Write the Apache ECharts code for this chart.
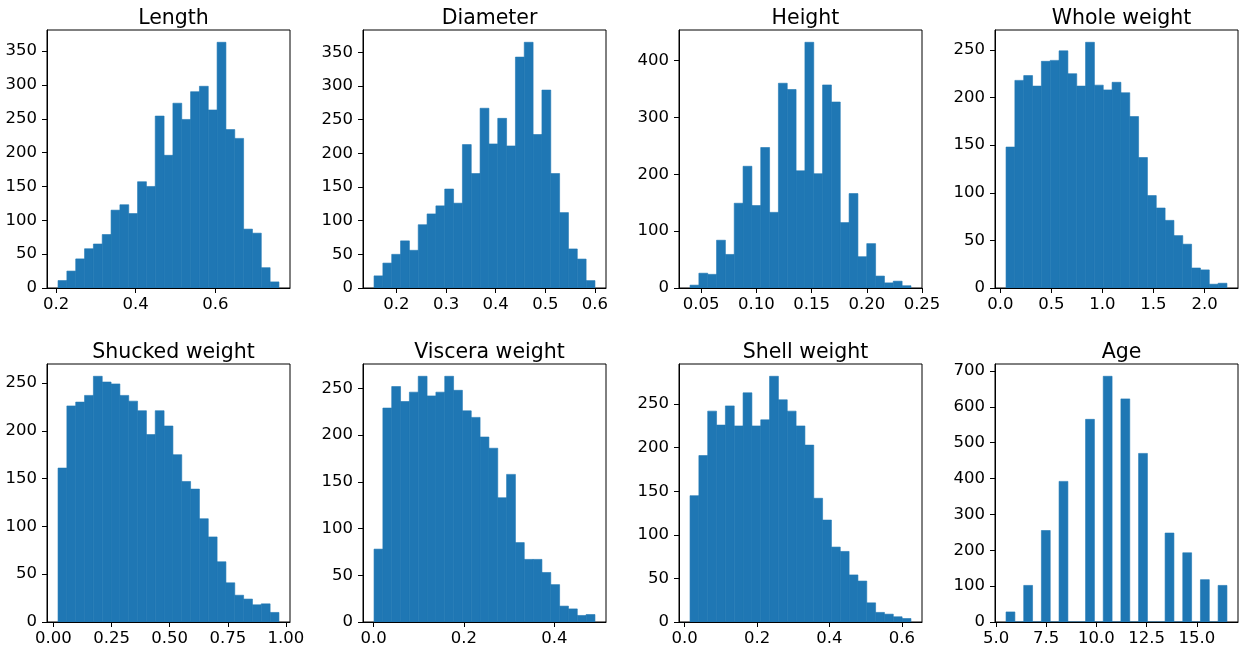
<!DOCTYPE html>
<html>
<head>
<meta charset="utf-8">
<script src="https://cdn.jsdelivr.net/npm/echarts@6/dist/echarts.min.js"></script>
<style>
html,body{margin:0;padding:0;background:#fff;}
#chart{width:1246px;height:648px;}
</style>
</head>
<body>
<div id="chart"></div>
<script>
// ---------- DATA ----------
const titles = ['Length', 'Diameter', 'Height', 'Whole weight', 'Shucked weight', 'Viscera weight', 'Shell weight', 'Age'];

// histogram counts (25 bins each)
const lengthCounts   = [11, 25, 43, 58, 65, 79, 115, 123, 110, 157, 150, 254, 196, 273, 249, 290, 298, 263, 363, 234, 221, 87, 81, 30, 9];
const diameterCounts = [18, 37, 50, 70, 56, 94, 110, 122, 147, 126, 213, 170, 267, 214, 252, 211, 343, 365, 228, 294, 170, 112, 58, 43, 11];
const heightCounts   = [5, 26, 24, 84, 59, 149, 214, 145, 247, 133, 360, 349, 206, 432, 201, 357, 327, 115, 166, 55, 78, 21, 9, 12, 4];
const wholeCounts    = [148, 218, 223, 212, 238, 239, 249, 225, 212, 258, 213, 208, 216, 205, 180, 137, 97, 84, 71, 55, 46, 21, 19, 4, 5];
const shuckedCounts  = [161, 226, 230, 237, 257, 251, 249, 237, 231, 221, 196, 221, 205, 175, 147, 139, 108, 89, 63, 41, 28, 24, 18, 19, 10];
const visceraCounts  = [78, 229, 252, 236, 246, 263, 242, 246, 263, 248, 226, 219, 198, 186, 133, 158, 85, 67, 67, 53, 40, 17, 14, 7, 8];
const shellCounts    = [145, 191, 242, 226, 248, 225, 263, 225, 232, 282, 255, 242, 225, 203, 142, 117, 86, 81, 54, 47, 22, 11, 9, 6, 4];
const ageCounts      = [28, 0, 102, 0, 255, 0, 392, 0, 0, 565, 0, 685, 0, 622, 0, 470, 0, 0, 248, 0, 193, 0, 118, 0, 102];

// data range covered by the bins (first edge, last edge)
const binLo = [0.205, 0.155, 0.04, 0.055, 0.02, 0.001, 0.015, 5.5];
const binHi = [0.76, 0.6, 0.24, 2.22, 0.97, 0.49, 0.625, 16.5];

// tick labels
const xTicksLength   = ['0.2', '0.4', '0.6'];
const xTicksDiameter = ['0.2', '0.3', '0.4', '0.5', '0.6'];
const xTicksHeight   = ['0.05', '0.10', '0.15', '0.20', '0.25'];
const xTicksWhole    = ['0.0', '0.5', '1.0', '1.5', '2.0'];
const xTicksShucked  = ['0.00', '0.25', '0.50', '0.75', '1.00'];
const xTicksViscera  = ['0.0', '0.2', '0.4'];
const xTicksShell    = ['0.0', '0.2', '0.4', '0.6'];
const xTicksAge      = ['5.0', '7.5', '10.0', '12.5', '15.0'];

const yTicks350 = ['0', '50', '100', '150', '200', '250', '300', '350'];
const yTicks400 = ['0', '100', '200', '300', '400'];
const yTicks250 = ['0', '50', '100', '150', '200', '250'];
const yTicks700 = ['0', '100', '200', '300', '400', '500', '600', '700'];

// ---------- ASSEMBLY ----------
const allCounts = [lengthCounts, diameterCounts, heightCounts, wholeCounts, shuckedCounts, visceraCounts, shellCounts, ageCounts];
const allXTicks = [xTicksLength, xTicksDiameter, xTicksHeight, xTicksWhole, xTicksShucked, xTicksViscera, xTicksShell, xTicksAge];
const allYTicks = [yTicks350, yTicks350, yTicks400, yTicks250, yTicks250, yTicks250, yTicks250, yTicks700];

// layout
const colLeft = [47, 363, 679, 995];
const rowTop = [30, 364];
const gridW = 243, gridH = 258;
const FONT = 'DejaVu Sans';
const BLUE = '#1f77b4';
const TICK_FONT = 16.5;

function labelFor(list, v) {
  for (const s of list) { if (Math.abs(parseFloat(s) - v) < 1e-9) return s; }
  return '';
}

const grids = [], xAxes = [], yAxes = [], series = [], titleList = [];
for (let i = 0; i < 8; i++) {
  const col = i % 4, row = Math.floor(i / 4);
  const lo = binLo[i], hi = binHi[i], n = allCounts[i].length;
  const range = hi - lo;
  const step = range / n;
  const maxC = Math.max.apply(null, allCounts[i]);
  const xt = allXTicks[i], yt = allYTicks[i];
  const xtv = xt.map(parseFloat), ytv = yt.map(parseFloat);

  grids.push({
    left: colLeft[col], top: rowTop[row], width: gridW, height: gridH,
    show: true, borderColor: '#000', borderWidth: 1, backgroundColor: 'transparent'
  });
  titleList.push({
    text: titles[i], left: colLeft[col] + gridW / 2, top: rowTop[row] - 27, textAlign: 'center',
    textStyle: { fontFamily: FONT, fontSize: 20.5, fontWeight: 'normal', color: '#000' }
  });
  xAxes.push({
    gridIndex: i, type: 'value', min: lo - 0.05 * range, max: hi + 0.05 * range, z: 5,
    splitLine: { show: false },
    axisLine: { show: true, onZero: false, lineStyle: { color: '#000', width: 1 } },
    axisTick: { show: true, inside: false, length: 5, lineStyle: { color: '#000', width: 1 }, customValues: xtv },
    axisLabel: { show: true, customValues: xtv, formatter: (v) => labelFor(xt, v), color: '#000', fontFamily: FONT, fontSize: TICK_FONT, margin: 8 }
  });
  yAxes.push({
    gridIndex: i, type: 'value', min: 0, max: maxC * 1.05, z: 5,
    splitLine: { show: false },
    axisLine: { show: true, onZero: false, lineStyle: { color: '#000', width: 1 } },
    axisTick: { show: true, inside: false, length: 5, lineStyle: { color: '#000', width: 1 }, customValues: ytv },
    axisLabel: { show: true, customValues: ytv, formatter: (v) => labelFor(yt, v), color: '#000', fontFamily: FONT, fontSize: TICK_FONT, margin: 10 }
  });
  const data = allCounts[i].map((c, k) => [lo + k * step, lo + (k + 1) * step, c]);
  series.push({
    type: 'custom', xAxisIndex: i, yAxisIndex: i, z: 2,
    encode: { x: [0, 1], y: 2 },
    data: data,
    clip: true,
    renderItem: function (params, api) {
      const p0 = api.coord([api.value(0), 0]);
      const p1 = api.coord([api.value(1), api.value(2)]);
      return {
        type: 'rect',
        shape: { x: p0[0], y: p1[1], width: p1[0] - p0[0], height: p0[1] - p1[1] },
        style: { fill: BLUE, stroke: BLUE, lineWidth: 0.6 }
      };
    }
  });
}

const chart = echarts.init(document.getElementById('chart'), null, { renderer: 'canvas' });
chart.setOption({
  animation: false,
  backgroundColor: '#fff',
  title: titleList,
  grid: grids,
  xAxis: xAxes,
  yAxis: yAxes,
  series: series
});
</script>
</body>
</html>
